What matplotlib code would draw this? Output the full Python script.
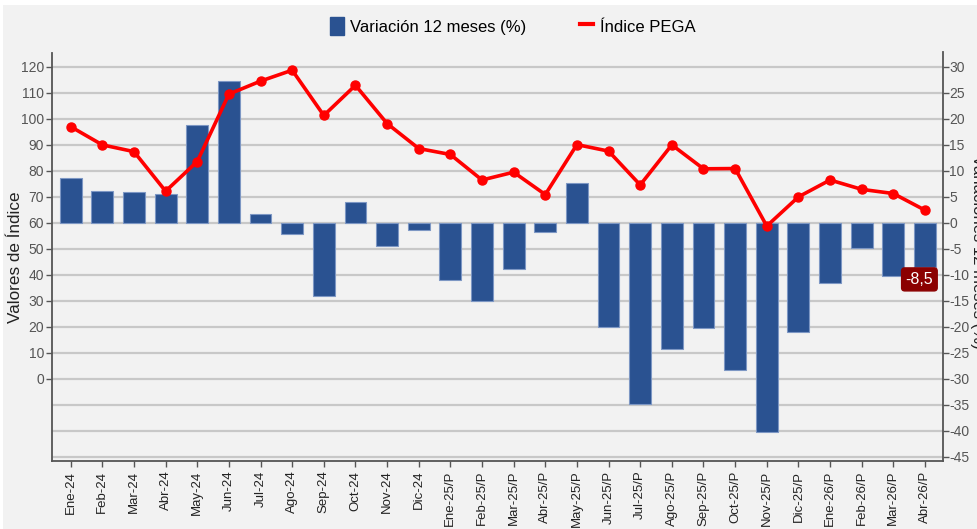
import matplotlib
matplotlib.use("Agg")
import matplotlib.pyplot as plt
import numpy as np
from matplotlib.patches import Rectangle, Patch
from matplotlib.lines import Line2D

months = ["Ene-24", "Feb-24", "Mar-24", "Abr-24", "May-24", "Jun-24", "Jul-24", "Ago-24",
          "Sep-24", "Oct-24", "Nov-24", "Dic-24", "Ene-25/P", "Feb-25/P", "Mar-25/P",
          "Abr-25/P", "May-25/P", "Jun-25/P", "Jul-25/P", "Ago-25/P", "Sep-25/P",
          "Oct-25/P", "Nov-25/P", "Dic-25/P", "Ene-26/P", "Feb-26/P", "Mar-26/P", "Abr-26/P"]
variacion = [8.5, 6.0, 5.8, 5.6, 18.7, 27.2, 1.6, -2.2, -14.0, 3.9, -4.5, -1.5, -11.0,
             -15.0, -8.9, -1.8, 7.7, -20.1, -34.8, -24.2, -20.2, -28.3, -40.2, -21.1,
             -11.5, -4.9, -10.3, -8.5]
indice = [96.9, 89.9, 87.3, 72.1, 83.5, 109.4, 114.4, 118.6, 101.2, 112.8, 98.1, 88.5,
          86.2, 76.4, 79.4, 70.8, 90.0, 87.5, 74.5, 89.9, 80.7, 80.8, 58.7, 69.9, 76.4,
          72.8, 71.2, 64.8]
left_ticks = list(range(0, 121, 10))
right_ticks = list(range(-45, 31, 5))

plt.rcParams['font.family'] = ['Liberation Sans', 'DejaVu Sans']
plt.rcParams['axes.unicode_minus'] = False

W, H = 977, 529
fig = plt.figure(figsize=(W / 100, H / 100), dpi=100)
fig.patch.set_facecolor('white')
fig.patches.append(Rectangle((3 / W, 0), 1, 1 - 5 / H, transform=fig.transFigure,
                             facecolor='#f2f2f2', edgecolor='none', zorder=-10))

pos = [51.7 / W, 1 - 461 / H, (943 - 51.7) / W, (461 - 52.5) / H]
ax2 = fig.add_axes(pos)   # right axis: bars + grid
ax1 = fig.add_axes(pos, sharex=ax2)  # left axis: index line
ax1.set_zorder(ax2.get_zorder() + 1)
ax1.patch.set_visible(False)
ax2.patch.set_visible(False)

x = np.arange(len(months))
r_lo, r_hi = -45.8, 32.7
ax2.set_ylim(r_lo, r_hi)
ax1.set_ylim(60 + 2 * r_lo, 60 + 2 * r_hi)
ax2.set_xlim(-0.6, len(months) - 1 + 0.57)

ax2.bar(x, variacion, width=0.69, color='#2a5291', edgecolor='#7d97c4', linewidth=0.8, zorder=3)
ax2.set_yticks(right_ticks)
ax2.yaxis.tick_right()
ax2.grid(axis='y', color='#c8c8c8', linewidth=1.6, zorder=0)
ax2.set_axisbelow(True)

ax1.plot(x, indice, color='#ff0000', linewidth=2.6, marker='o', markersize=6.5, zorder=5)
ax1.set_yticks(left_ticks)

for ax in (ax1, ax2):
    for s in ax.spines.values():
        s.set_visible(False)
for ax, side in ((ax1, 'left'), (ax2, 'right'), (ax2, 'bottom')):
    ax.spines[side].set_visible(True)
    ax.spines[side].set_color('#555555')
    ax.spines[side].set_linewidth(1.3)

ax1.tick_params(axis='y', colors='#555555', labelsize=10, length=4, width=1, labelcolor='#555555', pad=1.5)
ax2.tick_params(axis='y', colors='#555555', labelsize=10, length=4, width=1, labelcolor='#555555', pad=0.5)
ax2.set_xticks(x)
ax2.set_xticklabels(months, rotation=90)
ax2.tick_params(axis='x', colors='#555555', labelcolor='#222222', labelsize=9.5, length=4, width=1, pad=3)
ax1.tick_params(axis='x', which='both', bottom=False, labelbottom=False)

fig.text(16 / W, 1 - 257 / H, 'Valores de Índice', rotation=90, fontsize=12.3,
         color='#222222', ha='center', va='center')
fig.text(977 / W, 1 - 252 / H, 'Variaciones 12 meses (%)', rotation=-90, fontsize=12,
         color='#222222', ha='center', va='center')

ax2.annotate('-8,5', xy=(x[-1], variacion[-1]), xytext=(-4, -9), textcoords='offset points',
             ha='center', va='center', color='white', fontsize=11.5, zorder=10,
             bbox=dict(boxstyle='round,pad=0.25,rounding_size=0.2', facecolor='#8b0000', edgecolor='#8b0000'))

handles = [Patch(facecolor='#2a5291', edgecolor='#2a5291'),
           Line2D([0], [0], color='#ff0000', linewidth=3)]
fig.legend(handles, ['Variación 12 meses (%)', 'Índice PEGA'], loc='center',
           bbox_to_anchor=(513 / W, 1 - 26 / H), ncol=2, frameon=False, fontsize=12,
           handlelength=0.8, handleheight=1.3, columnspacing=3.2, handletextpad=0.4)

fig.savefig('out.png', dpi=100, facecolor='white')
